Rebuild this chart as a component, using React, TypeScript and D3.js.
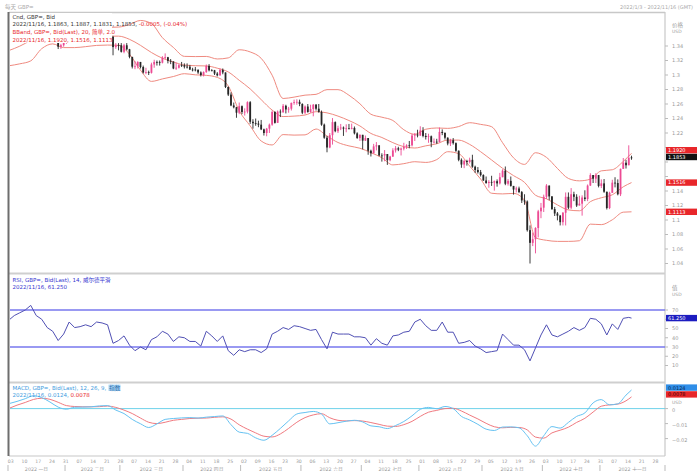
import React from "react";
import * as d3 from "d3";

// ---------- OHLC (GBP= daily, 2022/1/3 - 2022/11/16) ----------
const opens = [1.3520,
1.3480,1.3530,1.3545,1.3530,1.3590,1.3595,1.3640,1.3710,1.3715,1.3680,
1.3645,1.3600,1.3620,1.3595,1.3550,1.3480,1.3500,1.3465,1.3390,1.3410,
1.3445,1.3510,1.3580,1.3595,1.3530,1.3530,1.3535,1.3555,1.3555,1.3560,
1.3540,1.3535,1.3590,1.3615,1.3590,1.3590,1.3575,1.3525,1.3385,1.3410,
1.3410,1.3320,1.3410,1.3355,1.3250,1.3115,1.3120,1.3180,1.3110,1.3035,
1.3040,1.3030,1.3145,1.3180,1.3180,1.3170,1.3240,1.3245,1.3195,1.3185,
1.3090,1.3100,1.3135,
1.3135,1.3115,1.3115,1.3075,1.3075,1.3070,1.3035,1.3000,1.3040,1.3125,
1.3065,1.3065,1.3020,1.2995,1.3070,1.3035,1.2835,1.2730,1.2580,1.2555,
1.2480,
1.2570,1.2490,1.2495,1.2625,1.2355,1.2335,1.2330,1.2315,1.2250,1.2200,
1.2260,1.2315,1.2490,1.2340,1.2495,1.2485,1.2575,1.2525,1.2535,1.2615,
1.2625,1.2630,
1.2600,1.2480,1.2565,1.2490,1.2530,1.2590,1.2535,1.2490,1.2315,1.2135,
1.2000,1.2170,1.2350,1.2225,1.2265,1.2275,1.2260,1.2265,1.2265,1.2270,
1.2195,1.2130,
1.2175,1.2095,1.2130,1.1955,1.1920,1.2015,1.2030,1.1890,1.1890,1.1910,
1.1825,1.1875,1.1960,1.1990,1.1970,1.1985,1.2010,1.2030,1.2030,1.2165,
1.2180,
1.2165,1.2235,1.2160,1.2145,1.2155,1.2075,1.2080,1.2075,1.2215,1.2200,
1.2135,1.2055,1.2100,1.2060,1.1955,1.1830,1.1765,1.1815,1.1800,1.1830,
1.1735,1.1690,1.1660,
1.1620,1.1545,1.1510,1.1525,1.1515,1.1535,1.1505,1.1590,1.1680,1.1500,
1.1540,1.1470,1.1420,1.1435,1.1385,1.1270,1.1255,1.0860,1.0685,1.0735,
1.0890,1.1120,
1.1170,1.1320,1.1475,1.1325,1.1150,1.1090,1.1060,1.0970,1.1100,1.1320,
1.1170,1.1355,1.1320,1.1200,1.1225,1.1310,1.1290,1.1475,1.1620,1.1570,
1.1620,
1.1470,1.1505,1.1390,1.1165,1.1375,1.1515,1.1510,1.1355,1.1705,1.1790,
1.1755,1.1863];

const highs = [
1.3530,1.3560,1.3600,1.3560,1.3600,1.3610,1.3660,1.3720,1.3748,1.3730,
1.3690,1.3660,1.3640,1.3650,1.3600,1.3560,1.3520,1.3530,1.3470,1.3430,
1.3460,
1.3530,1.3590,1.3630,1.3640,1.3550,1.3560,1.3580,1.3640,1.3580,1.3580,
1.3570,1.3600,1.3640,1.3640,1.3620,1.3620,1.3600,1.3540,1.3440,1.3440,
1.3440,1.3430,1.3440,1.3360,1.3250,1.3190,1.3190,1.3180,1.3130,1.3100,
1.3060,1.3170,1.3210,1.3200,1.3200,1.3260,1.3298,1.3250,1.3220,1.3190,
1.3170,1.3150,1.3180,
1.3160,1.3160,1.3140,1.3100,1.3110,1.3080,1.3050,1.3050,1.3145,1.3150,
1.3080,1.3070,1.3040,1.3090,1.3090,1.3030,1.2840,1.2760,1.2620,1.2560,
1.2620,
1.2580,1.2540,1.2637,1.2640,1.2390,1.2400,1.2370,1.2380,1.2260,1.2270,
1.2330,1.2510,1.2500,1.2510,1.2525,1.2600,1.2590,1.2560,1.2620,1.2660,
1.2665,1.2660,
1.2610,1.2580,1.2600,1.2590,1.2600,1.2600,1.2600,1.2510,1.2330,1.2160,
1.2200,1.2406,1.2360,1.2300,1.2325,1.2290,1.2320,1.2325,1.2330,1.2290,
1.2210,1.2180,
1.2170,1.2165,1.2130,1.1970,1.2050,1.2075,1.2030,1.1920,1.1965,1.1900,
1.1885,1.1990,1.2020,1.2010,1.2000,1.2065,1.2045,1.2090,1.2190,1.2200,
1.2245,
1.2293,1.2280,1.2200,1.2190,1.2165,1.2125,1.2120,1.2276,1.2250,1.2210,
1.2140,1.2120,1.2130,1.2070,1.1960,1.1850,1.1830,1.1830,1.1860,1.1900,
1.1750,1.1730,1.1690,
1.1630,1.1600,1.1550,1.1610,1.1545,1.1560,1.1650,1.1700,1.1738,1.1565,
1.1600,1.1470,1.1460,1.1460,1.1400,1.1355,1.1270,1.0925,1.0825,1.0900,
1.1140,1.1235,
1.1350,1.1495,1.1475,1.1330,1.1180,1.1110,1.1070,1.1110,1.1380,1.1380,
1.1440,1.1390,1.1355,1.1335,1.1340,1.1410,1.1490,1.1645,1.1620,1.1645,
1.1620,
1.1560,1.1565,1.1390,1.1390,1.1555,1.1590,1.1560,1.1710,1.1855,1.1830,
1.2030,1.1887];

const lows = [
1.3430,1.3460,1.3510,1.3490,1.3520,1.3545,1.3580,1.3630,1.3690,1.3660,
1.3630,1.3590,1.3580,1.3580,1.3540,1.3450,1.3440,1.3450,1.3358,1.3360,
1.3390,
1.3430,1.3500,1.3500,1.3520,1.3490,1.3500,1.3520,1.3510,1.3500,1.3490,
1.3510,1.3520,1.3560,1.3570,1.3530,1.3530,1.3520,1.3272,1.3360,1.3340,
1.3310,1.3300,1.3340,1.3230,1.3090,1.3080,1.3090,1.3090,1.3020,1.3010,
1.3000,1.3020,1.3100,1.3130,1.3130,1.3160,1.3220,1.3160,1.3150,1.3080,
1.3070,1.3090,1.3110,
1.3090,1.3090,1.3070,1.3050,1.3050,1.3015,1.2980,1.2980,1.3030,1.3050,
1.3050,1.3000,1.2980,1.2990,1.3010,1.2820,1.2710,1.2570,1.2540,1.2410,
1.2460,
1.2460,1.2440,1.2470,1.2325,1.2260,1.2300,1.2280,1.2240,1.2165,1.2155,
1.2200,1.2300,1.2330,1.2340,1.2420,1.2480,1.2470,1.2480,1.2510,1.2590,
1.2590,1.2570,
1.2460,1.2460,1.2480,1.2480,1.2430,1.2510,1.2480,1.2300,1.2120,1.1934,
1.1990,1.2040,1.2210,1.2200,1.2240,1.2160,1.2210,1.2250,1.2250,1.2180,
1.2120,1.2090,
1.1975,1.2090,1.1900,1.1876,1.1920,1.1960,1.1880,1.1805,1.1810,1.1760,
1.1810,1.1870,1.1930,1.1950,1.1890,1.1960,1.1980,1.1990,1.2015,1.2090,
1.2140,
1.2160,1.2140,1.2110,1.2065,1.2004,1.2055,1.2050,1.2070,1.2170,1.2110,
1.2030,1.2020,1.2040,1.1940,1.1810,1.1720,1.1715,1.1750,1.1780,1.1720,
1.1650,1.1640,1.1600,
1.1540,1.1500,1.1445,1.1470,1.1405,1.1460,1.1490,1.1590,1.1480,1.1475,
1.1460,1.1350,1.1380,1.1370,1.1235,1.1210,1.0840,1.0400,1.0640,1.0540,
1.0760,1.1025,
1.1110,1.1290,1.1275,1.1140,1.1055,1.0995,1.0925,1.0925,1.0925,1.1150,
1.1150,1.1260,1.1180,1.1205,1.1060,1.1260,1.1260,1.1470,1.1510,1.1510,
1.1450,
1.1440,1.1375,1.1145,1.1150,1.1380,1.1450,1.1340,1.1330,1.1710,1.1710,
1.1760,1.1831];

const closes = [
1.3480,1.3530,1.3545,1.3530,1.3590,1.3595,1.3640,1.3710,1.3715,1.3680,
1.3645,1.3600,1.3620,1.3595,1.3550,1.3480,1.3500,1.3465,1.3390,1.3410,
1.3445,
1.3510,1.3580,1.3595,1.3530,1.3530,1.3535,1.3555,1.3555,1.3560,1.3540,
1.3535,1.3590,1.3615,1.3590,1.3590,1.3575,1.3525,1.3385,1.3410,1.3410,
1.3320,1.3410,1.3355,1.3250,1.3115,1.3120,1.3180,1.3110,1.3035,1.3040,
1.3030,1.3145,1.3180,1.3180,1.3170,1.3240,1.3245,1.3195,1.3185,1.3090,
1.3100,1.3135,1.3135,
1.3115,1.3115,1.3075,1.3075,1.3070,1.3035,1.3000,1.3040,1.3125,1.3065,
1.3065,1.3020,1.2995,1.3070,1.3035,1.2835,1.2730,1.2580,1.2555,1.2480,
1.2570,
1.2490,1.2495,1.2625,1.2355,1.2335,1.2330,1.2315,1.2250,1.2200,1.2260,
1.2315,1.2490,1.2340,1.2495,1.2485,1.2575,1.2525,1.2535,1.2615,1.2625,
1.2630,1.2600,
1.2480,1.2565,1.2490,1.2530,1.2590,1.2535,1.2490,1.2315,1.2135,1.2000,
1.2170,1.2350,1.2225,1.2265,1.2275,1.2260,1.2265,1.2265,1.2270,1.2195,
1.2130,1.2175,
1.2095,1.2130,1.1955,1.1920,1.2015,1.2030,1.1890,1.1890,1.1910,1.1825,
1.1875,1.1960,1.1990,1.1970,1.1985,1.2010,1.2030,1.2030,1.2165,1.2180,
1.2165,
1.2235,1.2160,1.2145,1.2155,1.2075,1.2080,1.2075,1.2215,1.2200,1.2135,
1.2055,1.2100,1.2060,1.1955,1.1830,1.1765,1.1815,1.1800,1.1830,1.1735,
1.1690,1.1660,1.1620,
1.1545,1.1510,1.1525,1.1515,1.1535,1.1505,1.1590,1.1680,1.1500,1.1540,
1.1470,1.1420,1.1435,1.1385,1.1270,1.1255,1.0860,1.0685,1.0735,1.0890,
1.1120,1.1170,
1.1320,1.1475,1.1325,1.1150,1.1090,1.1060,1.0970,1.1100,1.1320,1.1170,
1.1355,1.1320,1.1200,1.1225,1.1310,1.1290,1.1475,1.1620,1.1570,1.1620,
1.1470,
1.1505,1.1390,1.1165,1.1375,1.1515,1.1510,1.1355,1.1705,1.1790,1.1755,
1.1858,1.1853];

// ---------- Bollinger bands (20, 2), every 4th bar + last ----------
const bbUpper = [
1.3548,1.3641,1.3758,1.3743,1.3722,1.3745,1.3748,1.3686,1.3637,1.3657,1.3661,1.3697,1.3752,1.3709,1.3515,1.3380,1.3257,1.3254,1.3256,1.3221,
1.3236,1.3348,1.3318,1.3230,1.2997,1.2676,1.2695,1.2722,1.2733,1.2798,1.2798,1.2721,1.2603,1.2459,1.2418,1.2373,1.2245,1.2181,1.2252,1.2269,
1.2264,1.2289,1.2342,1.2319,1.2287,1.2066,1.1857,1.1767,1.1928,1.1864,1.1711,1.1573,1.1540,1.1563,1.1678,1.1693,1.1808,1.1920];
const bbMiddle = [
1.3337,1.3398,1.3477,1.3553,1.3576,1.3562,1.3563,1.3539,1.3523,1.3535,1.3536,1.3492,1.3409,1.3310,1.3231,1.3180,1.3137,1.3128,1.3125,1.3094,
1.3042,1.2927,1.2808,1.2660,1.2516,1.2427,1.2433,1.2448,1.2494,1.2478,1.2433,1.2372,1.2297,1.2194,1.2138,1.2067,1.2011,1.1993,1.2023,1.2051,
1.2103,1.2102,1.2043,1.1942,1.1828,1.1713,1.1612,1.1519,1.1342,1.1292,1.1208,1.1139,1.1127,1.1253,1.1307,1.1348,1.1458,1.1516];
const bbLower = [
1.3127,1.3154,1.3195,1.3363,1.3429,1.3378,1.3378,1.3391,1.3408,1.3413,1.3410,1.3287,1.3067,1.2912,1.2946,1.2979,1.3018,1.3002,1.2995,1.2967,
1.2848,1.2506,1.2298,1.2090,1.2035,1.2178,1.2171,1.2174,1.2255,1.2158,1.2069,1.2022,1.1990,1.1929,1.1859,1.1760,1.1777,1.1804,1.1794,1.1833,
1.1942,1.1915,1.1744,1.1565,1.1369,1.1360,1.1367,1.1271,1.0756,1.0720,1.0705,1.0705,1.0714,1.0943,1.0936,1.1003,1.1108,1.1113];

// ---------- RSI (14, Wilder), every 2nd bar + last ----------
const rsiVal = [
59,64,67,70,75,64,60,51,47,37,44,57,51,52,54,52,57,56,54,34,
37,42,32,26,30,27,38,41,47,44,36,41,40,36,36,31,47,42,36,42,
26,21,27,25,27,27,24,28,44,47,51,49,53,52,50,48,49,38,28,46,
44,44,44,41,41,40,32,39,34,32,42,43,46,47,57,60,53,48,48,57,
46,46,34,35,37,31,28,24,25,26,44,38,32,32,27,15,29,43,54,43,
41,44,47,51,48,51,61,60,55,43,55,49,61,62,61.25];

// ---------- MACD (12, 26, 9), every 3rd bar + last ----------
const macdVal = [
0.0033,0.0048,0.0066,0.0086,0.0073,0.0044,0.0010,-0.0004,0.0009,0.0010,0.0012,0.0018,0.0020,-0.0010,-0.0033,-0.0072,-0.0101,-0.0126,-0.0102,-0.0072,
-0.0066,-0.0062,-0.0060,-0.0063,-0.0057,-0.0053,-0.0049,-0.0107,-0.0157,-0.0165,-0.0195,-0.0211,-0.0178,-0.0132,-0.0082,-0.0036,-0.0026,-0.0019,-0.0036,-0.0102,
-0.0094,-0.0084,-0.0078,-0.0089,-0.0115,-0.0121,-0.0133,-0.0113,-0.0086,-0.0048,-0.0005,0.0008,-0.0001,0.0014,0.0000,-0.0052,-0.0076,-0.0105,-0.0137,-0.0146,
-0.0123,-0.0122,-0.0128,-0.0181,-0.0250,-0.0181,-0.0120,-0.0130,-0.0092,-0.0052,-0.0029,0.0038,0.0060,0.0025,0.0032,0.0090,0.0124];
const signalVal = [
0.0001,0.0023,0.0041,0.0061,0.0069,0.0062,0.0042,0.0020,0.0014,0.0012,0.0012,0.0013,0.0017,0.0008,-0.0010,-0.0033,-0.0063,-0.0091,-0.0100,-0.0091,
-0.0078,-0.0072,-0.0066,-0.0064,-0.0063,-0.0058,-0.0055,-0.0070,-0.0108,-0.0137,-0.0162,-0.0184,-0.0189,-0.0169,-0.0132,-0.0091,-0.0060,-0.0042,-0.0034,-0.0061,
-0.0078,-0.0082,-0.0080,-0.0083,-0.0093,-0.0105,-0.0117,-0.0119,-0.0107,-0.0085,-0.0052,-0.0024,-0.0012,0.0000,0.0002,-0.0016,-0.0043,-0.0069,-0.0098,-0.0121,
-0.0128,-0.0125,-0.0126,-0.0142,-0.0190,-0.0197,-0.0162,-0.0144,-0.0124,-0.0092,-0.0065,-0.0023,0.0016,0.0025,0.0030,0.0052,0.0078];

// ---------- tick labels ----------
const monthLabels = ["2022 一月","2022 二月","2022 三月","2022 四月","2022 五月","2022 六月","2022 七月","2022 八月","2022 九月","2022 十月","2022 十一月"];
const priceTicks = [1.34,1.32,1.30,1.28,1.26,1.24,1.22,1.20,1.18,1.16,1.14,1.12,1.10,1.08,1.06,1.04];
const rsiTicks = [70,60,50,40,30,20,10];
const macdTicks = [0,-0.01,-0.02];

const FONT = "'DejaVu Sans','Noto Sans CJK SC',sans-serif";
const UP = "#ec4a93";
const DOWN = "#262626";
const BB = "#ef8a80";
const RED = "#e8262a";
const AX = "#9a9a9a";

// sample positions (bar indices) of the indicator series
const sampled = (step: number, n: number) => {
  const a = d3.range(0, n, step);
  if (a[a.length - 1] !== n - 1) a.push(n - 1);
  return a;
};

export default function App() {
  const W = 697, H = 471;
  const L = 9, R = 665;
  const mainTop = 13, mainBot = 272;
  const rsiTop = 275, rsiBot = 381;
  const macdTop = 384, macdBot = 456;
  const n = closes.length;

  const bbIdx = sampled(4, n);
  const rsiIdx = sampled(2, n);
  const macdIdx = sampled(3, n);

  const x = d3.scaleLinear().domain([0, n - 1]).range([8.8, 631.5]);
  const yP = d3.scaleLinear().domain([1.04, 1.34]).range([263.5, 46]);
  const yR = d3.scaleLinear().domain([30, 70]).range([347, 310]);
  const yM = d3.scaleLinear().domain([-0.02, 0]).range([438.6, 408.6]);

  const days = d3.timeDay
    .range(new Date(2022, 0, 3), new Date(2022, 11, 3))
    .filter((d) => d.getDay() !== 0 && d.getDay() !== 6);

  const fmtDay = d3.timeFormat("%d");
  const mondays = days
    .map((d, i) => ({ d, i }))
    .filter((o) => o.d.getDay() === 1 && x(o.i) < R - 4);

  const monthStarts: number[] = [];
  days.forEach((d, i) => {
    if (i === 0 || d.getMonth() !== days[i - 1].getMonth()) monthStarts.push(i);
  });
  const bounds = monthStarts.slice(0, monthLabels.length).map((i) => (i === 0 ? 8 : (x(i - 1) + x(i)) / 2));
  const boundsEnd = [...bounds.slice(1), R];

  const bbLine = (vals: number[]) =>
    d3.line<number>().x((_, k) => x(bbIdx[k])).y((v) => yP(v)).curve(d3.curveMonotoneX)(vals) || "";
  const rsiPath = d3.line<number>().x((_, k) => x(rsiIdx[k])).y((v) => yR(v))(rsiVal) || "";
  const macdPath = d3.line<number>().x((_, k) => x(macdIdx[k])).y((v) => yM(v)).curve(d3.curveMonotoneX)(macdVal) || "";
  const sigPath = d3.line<number>().x((_, k) => x(macdIdx[k])).y((v) => yM(v)).curve(d3.curveMonotoneX)(signalVal) || "";

  const last = n - 1;
  const fs = 5.5;
  const afs = 5;

  const tags = [
    { yc: 150.2, label: d3.format(".4f")(bbUpper[bbUpper.length - 1]), bg: RED, fg: "#fff" },
    { yc: 157, label: d3.format(".4f")(closes[last]), bg: "#111", fg: "#fff" },
    { yc: yP(bbMiddle[bbMiddle.length - 1]), label: d3.format(".4f")(bbMiddle[bbMiddle.length - 1]), bg: RED, fg: "#fff" },
    { yc: yP(bbLower[bbLower.length - 1]), label: d3.format(".4f")(bbLower[bbLower.length - 1]), bg: RED, fg: "#fff" },
    { yc: yR(61.25), label: "61.250", bg: "#1c1cc0", fg: "#fff" },
    { yc: 387.6, label: "0.0124", bg: "#2f8ee8", fg: "#0b2a55" },
    { yc: 394.4, label: "0.0078", bg: RED, fg: "#3a0000" },
  ];
  const covered = (yy: number) => tags.some((t) => Math.abs(t.yc - yy) < 6.2);

  return (
    <svg width={W} height={H} style={{ position: "absolute", left: 0, top: 0, background: "#fff" }} fontFamily={FONT}>
      <defs>
        <clipPath id="cMain"><rect x={L + 1} y={mainTop} width={R - L - 1} height={mainBot - mainTop} /></clipPath>
        <clipPath id="cRsi"><rect x={L + 1} y={rsiTop} width={R - L - 1} height={rsiBot - rsiTop} /></clipPath>
        <clipPath id="cMacd"><rect x={L + 1} y={macdTop} width={R - L - 1} height={macdBot - macdTop} /></clipPath>
      </defs>

      {/* header */}
      <text x={5} y={8.5} fontSize={5.5} fill="#aaa">每天 GBP=</text>
      <text x={693} y={8.5} fontSize={5} fill="#aaa" textAnchor="end">2022/1/3 - 2022/11/16 (GMT)</text>

      {/* frame */}
      <line x1={L} x2={R} y1={12.5} y2={12.5} stroke="#c8c8c8" strokeWidth={1.5} />
      <line x1={R} x2={R} y1={12} y2={macdBot} stroke="#c8c8c8" strokeWidth={1.2} />
      <line x1={L} x2={R} y1={macdBot} y2={macdBot} stroke="#c8c8c8" strokeWidth={1.2} />
      <line x1={L - 1} x2={R} y1={273.5} y2={273.5} stroke="#cfcfcf" strokeWidth={2} />
      <line x1={L - 1} x2={R} y1={382.5} y2={382.5} stroke="#cfcfcf" strokeWidth={2} />

      {/* ---------- main panel ---------- */}
      <g clipPath="url(#cMain)">
        <path d={bbLine(bbUpper)} fill="none" stroke={BB} strokeWidth={1} />
        <path d={bbLine(bbMiddle)} fill="none" stroke={BB} strokeWidth={1} />
        <path d={bbLine(bbLower)} fill="none" stroke={BB} strokeWidth={1} />
        {closes.map((c, i) => {
          const o = opens[i];
          const h = Math.max(highs[i], o, c);
          const l = Math.min(lows[i], o, c);
          const col = c > o ? UP : DOWN;
          const xc = x(i);
          const yt = yP(Math.max(o, c));
          const yb = yP(Math.min(o, c));
          return (
            <g key={i}>
              <line x1={xc} x2={xc} y1={yP(h)} y2={yP(l)} stroke={col} strokeWidth={0.9} />
              <rect x={xc - 0.9} y={yt} width={1.8} height={Math.max(0.8, yb - yt)} fill={col} />
            </g>
          );
        })}
      </g>
      {/* main legend */}
      <rect x={L + 1} y={13} width={102} height={30} fill="#fff" />
      <text x={12.5} y={18.5} fontSize={fs} fill="#333">Cnd, GBP=, Bid</text>
      <text x={12.5} y={26.2} fontSize={fs} fill="#333">
        2022/11/16, 1.1863, 1.1887, 1.1831, 1.1853, <tspan fill={RED}>-0.0005, (-0.04%)</tspan>
      </text>
      <text x={12.5} y={34} fontSize={fs} fill={RED}>BBand, GBP=, Bid(Last), 20, 简单, 2.0</text>
      <text x={12.5} y={41.6} fontSize={fs} fill={RED}>2022/11/16, 1.1920, 1.1516, 1.1113</text>

      {/* price axis */}
      <text x={R + 7} y={26.5} fontSize={5.5} fill={AX}>价格</text>
      <text x={R + 7} y={33} fontSize={4.5} fill={AX}>USD</text>
      {priceTicks.map((t) => (
        <g key={t}>
          <line x1={R} x2={R + 3} y1={yP(t)} y2={yP(t)} stroke="#bbb" />
          {!covered(yP(t)) && (
            <text x={R + 7} y={yP(t) + 1.8} fontSize={afs} fill={AX}>{d3.format(".2~f")(t)}</text>
          )}
        </g>
      ))}

      {/* ---------- RSI panel ---------- */}
      <g clipPath="url(#cRsi)">
        <line x1={L} x2={R} y1={yR(70)} y2={yR(70)} stroke="#7777ee" strokeWidth={1.3} />
        <line x1={L} x2={R} y1={yR(30)} y2={yR(30)} stroke="#7777ee" strokeWidth={1.3} />
        <path d={rsiPath} fill="none" stroke="#5050b4" strokeWidth={1} />
      </g>
      <text x={12.5} y={281.5} fontSize={fs} fill="#3535d0">RSI, GBP=, Bid(Last), 14, 威尔德平滑</text>
      <text x={12.5} y={289} fontSize={fs} fill="#3535d0">2022/11/16, 61.250</text>
      <text x={R + 7} y={289.5} fontSize={5.5} fill={AX}>值</text>
      <text x={R + 7} y={296} fontSize={4.5} fill={AX}>USD</text>
      {rsiTicks.map((t) => (
        <g key={t}>
          <line x1={R} x2={R + 3} y1={yR(t)} y2={yR(t)} stroke="#bbb" />
          {!covered(yR(t)) && (
            <text x={R + 7} y={yR(t) + 1.8} fontSize={afs} fill={AX}>{t}</text>
          )}
        </g>
      ))}

      {/* ---------- MACD panel ---------- */}
      <g clipPath="url(#cMacd)">
        <line x1={L} x2={R} y1={yM(0)} y2={yM(0)} stroke="#6fd2ea" strokeWidth={1} />
        <path d={sigPath} fill="none" stroke="#f07a80" strokeWidth={1} />
        <path d={macdPath} fill="none" stroke="#66c2f2" strokeWidth={1} />
      </g>
      <text x={12.5} y={389.5} fontSize={fs} fill="#3d9be0">MACD, GBP=, Bid(Last), 12, 26, 9,</text>
      <rect x={108.5} y={384.6} width={12} height={6.4} fill="#a9d6f7" />
      <text x={109.2} y={389.6} fontSize={fs} fill="#2b6aa8">指数</text>
      <text x={12.5} y={397.2} fontSize={fs} fill="#3d9be0">
        2022/11/16, 0.0124, <tspan fill={RED}>0.0078</tspan>
      </text>
      {macdTicks.map((t) => (
        <g key={t}>
          <line x1={R} x2={R + 3} y1={yM(t)} y2={yM(t)} stroke="#bbb" />
          <text x={R + 7} y={yM(t) + 3.5} fontSize={afs} fill={AX}>{t === 0 ? "0" : d3.format(".2f")(t)}</text>
        </g>
      ))}
      <text x={R + 7} y={403.8} fontSize={4.5} fill={AX}>USD</text>

      {tags.map((t, k) => (
        <g key={k}>
          <rect x={R + 1} y={t.yc - 3.2} width={W - R - 1} height={6.4} fill={t.bg} />
          <text x={R + 3} y={t.yc + 1.9} fontSize={afs} fill={t.fg}>{t.label}</text>
        </g>
      ))}

      {/* left border */}
      <line x1={8.5} x2={8.5} y1={12} y2={macdBot} stroke="#6e6e6e" strokeWidth={2} />

      {/* time axis */}
      {mondays.map((o) => (
        <text key={o.i} x={x(o.i) + 2} y={463} fontSize={4.6} fill={AX} textAnchor="middle">{fmtDay(o.d)}</text>
      ))}
      {bounds.map((b, k) => (
        <g key={k}>
          <line x1={b} x2={b} y1={465} y2={471} stroke="#aaa" strokeWidth={0.8} />
          <text x={(b + boundsEnd[k]) / 2} y={470.5} fontSize={4.8} fill={AX} textAnchor="middle">{monthLabels[k]}</text>
        </g>
      ))}
      <line x1={R} x2={R} y1={465} y2={471} stroke="#aaa" strokeWidth={0.8} />
    </svg>
  );
}
